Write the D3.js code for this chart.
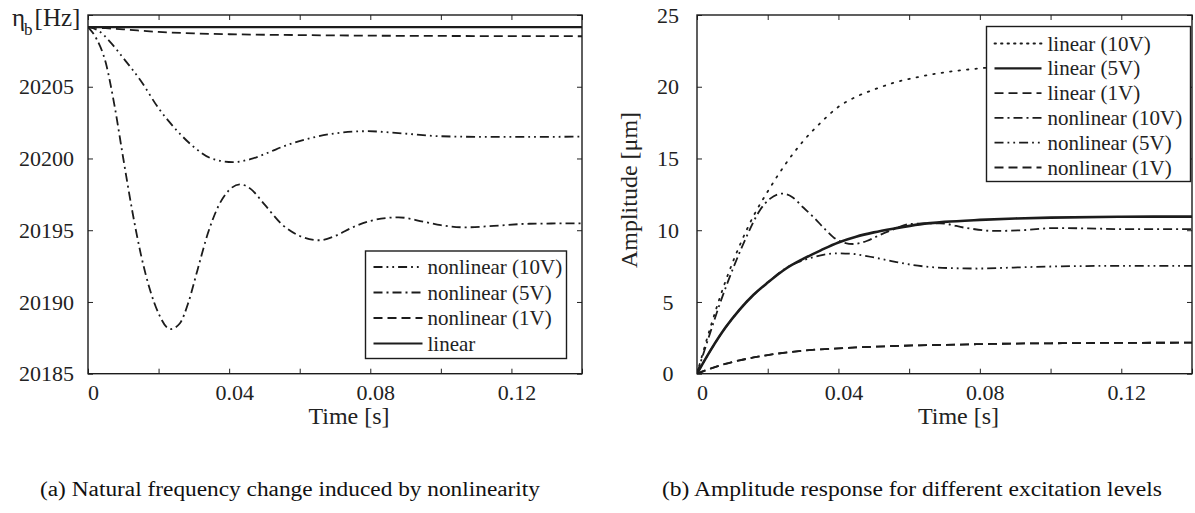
<!DOCTYPE html>
<html>
<head>
<meta charset="utf-8">
<script src="https://cdn.jsdelivr.net/npm/d3@7"></script>
<style>
  body { margin: 0; background: #fff; }
  svg, svg text { font-family: "Liberation Serif", "DejaVu Serif", serif !important; }
  svg { display: block; }
  .tick line { stroke: #222; stroke-width: 1; }
  .tick text { fill: #222; }
</style>
</head>
<body>
<svg id="chart" width="1195" height="513"></svg>
<script>
// ---- data ----
// (a) natural frequency eta_b [Hz] vs time [s]
var linT = [0, 0.14];
var linHz = [20209.15, 20209.15];

var nl1T = [0, 0.005, 0.01, 0.02, 0.03, 0.04, 0.06, 0.08, 0.10, 0.12, 0.14];
var nl1Hz = [20209.15, 20209.08, 20209.0, 20208.82, 20208.72, 20208.66, 20208.6, 20208.56, 20208.54, 20208.53, 20208.52];

var nl5T = [0, 0.0025, 0.005, 0.0075, 0.010, 0.0125, 0.015, 0.0175, 0.020, 0.0233, 0.026, 0.0285, 0.031, 0.034, 0.037, 0.040, 0.043, 0.046, 0.050, 0.055, 0.060, 0.0655, 0.070, 0.075, 0.080, 0.088, 0.095, 0.100, 0.107, 0.115, 0.125, 0.140];
var nl5Hz = [20209.15, 20208.3, 20206.7, 20203.7, 20200.0, 20196.4, 20193.3, 20190.9, 20189.2, 20188.1, 20188.5, 20190.0, 20192.2, 20194.8, 20196.7, 20197.8, 20198.2, 20197.9, 20196.8, 20195.4, 20194.6, 20194.3, 20194.6, 20195.2, 20195.65, 20195.9, 20195.6, 20195.35, 20195.2, 20195.3, 20195.45, 20195.48];

var nl10T = [0, 0.003, 0.006, 0.010, 0.015, 0.020, 0.025, 0.030, 0.035, 0.041, 0.046, 0.051, 0.056, 0.062, 0.070, 0.079, 0.089, 0.100, 0.115, 0.140];
var nl10Hz = [20209.15, 20208.9, 20208.2, 20207.0, 20205.4, 20203.5, 20202.0, 20200.8, 20200.0, 20199.75, 20199.95, 20200.4, 20200.9, 20201.35, 20201.75, 20201.9, 20201.75, 20201.55, 20201.5, 20201.52];

// (b) amplitude [um] vs time [s]
var ampT = [0, 0.004, 0.008, 0.012, 0.016, 0.020, 0.025, 0.030, 0.035, 0.040, 0.045, 0.050, 0.056, 0.063, 0.070, 0.080, 0.090, 0.100, 0.120, 0.140];
var lin10 = [0, 3.4, 6.4, 8.9, 11.0, 12.7, 14.6, 16.2, 17.5, 18.6, 19.3, 19.8, 20.3, 20.7, 21.0, 21.28, 21.5, 21.65, 21.85, 21.97];
var lin5 = [0, 1.7, 3.2, 4.45, 5.5, 6.35, 7.3, 8.0, 8.6, 9.15, 9.55, 9.85, 10.13, 10.41, 10.58, 10.72, 10.82, 10.88, 10.94, 10.95];
var lin1 = [0, 0.37, 0.68, 0.93, 1.13, 1.3, 1.47, 1.6, 1.7, 1.77, 1.83, 1.88, 1.93, 1.98, 2.01, 2.06, 2.1, 2.12, 2.15, 2.16];
var nl1 = [0, 0.37, 0.68, 0.93, 1.13, 1.3, 1.47, 1.6, 1.7, 1.77, 1.83, 1.88, 1.93, 1.98, 2.01, 2.06, 2.1, 2.12, 2.15, 2.16];

var nlA10T = [0, 0.003, 0.0065, 0.0103, 0.0141, 0.0178, 0.0207, 0.0241, 0.027, 0.030, 0.033, 0.0365, 0.0395, 0.0442, 0.048, 0.0517, 0.056, 0.0602, 0.0687, 0.0763, 0.084, 0.092, 0.1013, 0.110, 0.120, 0.140];
var nlA10 = [0, 2.3, 4.9, 7.4, 9.6, 11.4, 12.2, 12.55, 12.3, 11.6, 10.9, 10.0, 9.35, 9.04, 9.25, 9.67, 10.1, 10.43, 10.48, 10.15, 9.95, 10.0, 10.15, 10.13, 10.08, 10.08];

var nlA5T = [0, 0.004, 0.008, 0.012, 0.016, 0.020, 0.0254, 0.030, 0.035, 0.0395, 0.044, 0.048, 0.055, 0.0612, 0.068, 0.0753, 0.080, 0.0895, 0.100, 0.1083, 0.120, 0.140];
var nlA5 = [0, 1.7, 3.2, 4.45, 5.5, 6.35, 7.4, 7.9, 8.25, 8.39, 8.35, 8.2, 7.85, 7.57, 7.4, 7.34, 7.33, 7.4, 7.47, 7.5, 7.52, 7.52];

var xTicks = [0, 0.02, 0.04, 0.06, 0.08, 0.10, 0.12, 0.14];
var xTickLabels = ["0", "", "0.04", "", "0.08", "", "0.12", ""];
var yTicksA = [20185, 20190, 20195, 20200, 20205, 20210];
var yTickLabelsA = ["20185", "20190", "20195", "20200", "20205", ""];
var yTicksB = [0, 5, 10, 15, 20, 25];
var yTickLabelsB = ["0", "5", "10", "15", "20", "25"];

var legendA = ["nonlinear (10V)", "nonlinear (5V)", "nonlinear (1V)", "linear"];
var legendB = ["linear (10V)", "linear (5V)", "linear (1V)", "nonlinear (10V)", "nonlinear (5V)", "nonlinear (1V)"];

// ---- styles ----
var FONT = "'Liberation Serif', 'DejaVu Serif', serif";
var DASH = "9,5", DASHDOT = "9,4,2,4", DASHDOTDOT = "9,4,1.8,4,1.8,4", DOT = "1.5,7";

var svg = d3.select("#chart");
svg.append("rect").attr("width", 1195).attr("height", 513).attr("fill", "#fff");

function zip(t, v) {
    return t.map(function (d, i) { return [d, v[i]]; });
}

function panel(opt) {
    var x = d3.scaleLinear().domain([0, 0.14]).range([opt.left, opt.right]);
    var y = d3.scaleLinear().domain(opt.yDomain).range([opt.bottom, opt.top]);
    var g = svg.append("g");

    var clipId = "clip" + opt.name;
    svg.append("clipPath").attr("id", clipId).append("rect")
        .attr("x", opt.left).attr("y", opt.top)
        .attr("width", opt.right - opt.left).attr("height", opt.bottom - opt.top);

    // axes, ticks inward
    var xa = g.append("g").attr("transform", "translate(0," + opt.bottom + ")")
        .call(d3.axisBottom(x).tickValues(xTicks).tickSize(-5).tickPadding(10.5)
            .tickFormat(function (d, i) { return xTickLabels[i]; }));
    xa.select(".domain").remove();
    xa.selectAll("text").attr("dx", 5).style("font-family", FONT).style("font-size", "22px");

    var xt = g.append("g").attr("transform", "translate(0," + opt.top + ")")
        .call(d3.axisTop(x).tickValues(xTicks).tickSize(-5).tickFormat(""));
    xt.select(".domain").remove();

    var ya = g.append("g").attr("transform", "translate(" + opt.left + ",0)")
        .call(d3.axisLeft(y).tickValues(opt.yTicks).tickSize(-5).tickPadding(opt.yPad)
            .tickFormat(function (d, i) { return opt.yLabels[i]; }));
    ya.select(".domain").remove();
    ya.selectAll("text").attr("text-anchor", opt.yAnchor).attr("x", -opt.yPad)
        .style("font-family", FONT).style("font-size", "22px");

    var yr = g.append("g").attr("transform", "translate(" + opt.right + ",0)")
        .call(d3.axisRight(y).tickValues(opt.yTicks).tickSize(-5).tickFormat(""));
    yr.select(".domain").remove();

    var line = d3.line()
        .x(function (d) { return x(d[0]); })
        .y(function (d) { return y(d[1]); })
        .curve(d3.curveMonotoneX);

    var lines = g.append("g").attr("clip-path", "url(#" + clipId + ")");
    opt.series.forEach(function (s) {
        lines.append("path")
            .attr("d", line(s.data))
            .attr("fill", "none")
            .attr("stroke", "#1c1c1c")
            .attr("stroke-width", s.width)
            .attr("stroke-dasharray", s.dash)
            .attr("stroke-linecap", s.dash === DOT ? "round" : "butt");
    });

    // frame
    g.append("rect")
        .attr("x", opt.left).attr("y", opt.top)
        .attr("width", opt.right - opt.left).attr("height", opt.bottom - opt.top)
        .attr("fill", "none").attr("stroke", "#1c1c1c").attr("stroke-width", 1.4);

    // legend
    var L = opt.legend;
    var lg = g.append("g");
    lg.append("rect")
        .attr("x", L.x).attr("y", L.y).attr("width", L.w).attr("height", L.h)
        .attr("fill", "#fff").attr("stroke", "#1c1c1c").attr("stroke-width", 1.4);
    L.items.forEach(function (it, i) {
        var cy = L.y + L.first + i * L.step;
        lg.append("line")
            .attr("x1", L.x + L.s0).attr("x2", L.x + L.s1)
            .attr("y1", cy).attr("y2", cy)
            .attr("stroke", "#1c1c1c").attr("stroke-width", it.width)
            .attr("stroke-dasharray", it.dash === DOT ? "1.5,5" : it.dash)
            .attr("stroke-linecap", it.dash === DOT ? "round" : "butt");
        lg.append("text")
            .attr("x", L.x + L.tx).attr("y", cy + 7)
            .attr("font-size", 21).attr("fill", "#222")
            .text(it.label);
    });

    // x title
    g.append("text")
        .attr("x", (opt.left + opt.right) / 2 + 14).attr("y", 424)
        .attr("text-anchor", "middle").attr("font-size", 24).attr("fill", "#222")
        .text("Time [s]");

    return { x: x, y: y, g: g };
}

panel({
    name: "A", left: 88, right: 582, top: 15, bottom: 373.7,
    yDomain: [20185, 20210], yTicks: yTicksA, yLabels: yTickLabelsA, yPad: 14, yAnchor: "end",
    series: [
        { data: zip(linT, linHz), dash: null, width: 2.2 },
        { data: zip(nl1T, nl1Hz), dash: DASH, width: 1.8 },
        { data: zip(nl5T, nl5Hz), dash: DASHDOT, width: 1.8 },
        { data: zip(nl10T, nl10Hz), dash: DASHDOTDOT, width: 1.8 }
    ],
    legend: {
        x: 365.5, y: 251, w: 201, h: 107.5, first: 16, step: 25.5, s0: 8, s1: 57, tx: 62,
        items: [
            { label: legendA[0], dash: DASHDOTDOT, width: 1.8 },
            { label: legendA[1], dash: DASHDOT, width: 1.8 },
            { label: legendA[2], dash: DASH, width: 1.8 },
            { label: legendA[3], dash: null, width: 2.2 }
        ]
    }
});

panel({
    name: "B", left: 697, right: 1192, top: 15, bottom: 373.7,
    yDomain: [0, 25], yTicks: yTicksB, yLabels: yTickLabelsB, yPad: 29, yAnchor: "middle",
    series: [
        { data: zip(ampT, lin10), dash: DOT, width: 1.8 },
        { data: zip(ampT, lin1), dash: DASH, width: 1.8 },
        { data: zip(ampT, nl1), dash: DASH, width: 1.8 },
        { data: zip(nlA5T, nlA5), dash: DASHDOTDOT, width: 1.8 },
        { data: zip(nlA10T, nlA10), dash: DASHDOT, width: 1.8 },
        { data: zip(ampT, lin5), dash: null, width: 2.6 }
    ],
    legend: {
        x: 986.5, y: 26.5, w: 204, h: 155, first: 17, step: 24.8, s0: 8, s1: 55, tx: 61,
        items: [
            { label: legendB[0], dash: DOT, width: 1.8 },
            { label: legendB[1], dash: null, width: 2.2 },
            { label: legendB[2], dash: DASH, width: 1.8 },
            { label: legendB[3], dash: DASHDOT, width: 1.8 },
            { label: legendB[4], dash: DASHDOTDOT, width: 1.8 },
            { label: legendB[5], dash: DASH, width: 1.8 }
        ]
    }
});

// y titles
var yt = svg.append("text").attr("x", 12).attr("y", 26).attr("font-size", 25).attr("fill", "#222");
yt.append("tspan").text("\u03b7");
yt.append("tspan").attr("font-size", 17).attr("dy", 9).attr("dx", -1).text("b");
yt.append("tspan").attr("dy", -9).attr("dx", 2).text("[Hz]");

svg.append("text")
    .attr("transform", "translate(637,190) rotate(-90)")
    .attr("text-anchor", "middle").attr("font-size", 24).attr("fill", "#222")
    .text("Amplitude [\u03bcm]");

// captions
svg.append("text").attr("x", 290).attr("y", 496).attr("text-anchor", "middle")
    .attr("font-size", 20).attr("fill", "#111")
    .attr("textLength", 500).attr("lengthAdjust", "spacingAndGlyphs")
    .text("(a) Natural frequency change induced by nonlinearity");
svg.append("text").attr("x", 912).attr("y", 496).attr("text-anchor", "middle")
    .attr("font-size", 20).attr("fill", "#111")
    .attr("textLength", 500).attr("lengthAdjust", "spacingAndGlyphs")
    .text("(b) Amplitude response for different excitation levels");
</script>
</body>
</html>
